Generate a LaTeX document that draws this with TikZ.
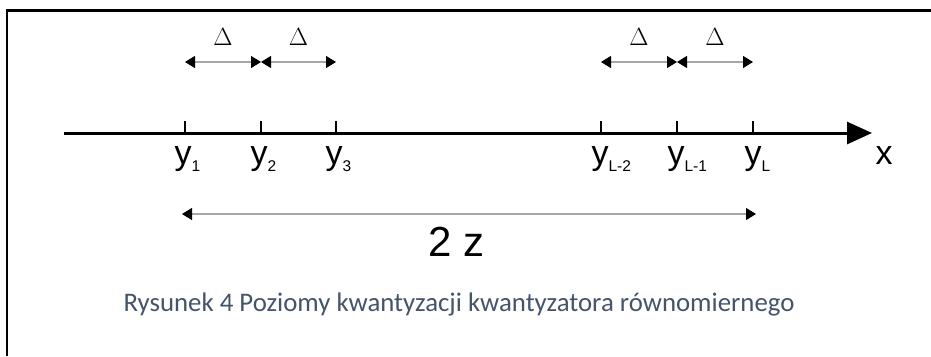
\documentclass[tikz,border=0pt]{standalone}
\usepackage{fontspec}
\setmainfont{Liberation Sans}
\newfontfamily\capfont{Carlito}
\newfontfamily\serifgr{Liberation Serif}
\usetikzlibrary{arrows.meta}
\definecolor{capblue}{HTML}{44546A}
\begin{document}
\begin{tikzpicture}[x=1pt,y=-1pt,
  frame/.style={line width=2.5pt,black},
  axis/.style={line width=3pt,black,-{Triangle[length=25pt,width=22pt]}},
  tickmark/.style={line width=2.5pt,black},
  dimline/.style={line width=1.2pt,black!35,{Triangle[length=10pt,width=12pt,fill=black,color=black]}-{Triangle[length=10pt,width=12pt,fill=black,color=black]}},
  ylbl/.style={font=\fontsize{34}{34}\selectfont,inner sep=0pt,text=black},
  dlbl/.style={font=\serifgr\fontsize{30}{30}\selectfont,inner sep=0pt,text=black}]
\newcommand{\subsc}[1]{\rlap{\raisebox{-7pt}{\fontsize{15.5}{15.5}\selectfont #1}}}
\useasboundingbox (0,0) rectangle (931,356);
\fill[white] (0,0) rectangle (931,356);
\draw[frame] (7,356) -- (7,10.5) -- (931,10.5);
% axis
\coordinate (a0) at (64,133);
\coordinate (a1) at (872,133);
\draw[axis] (a0) -- (a1);
% ticks
\foreach \n/\xx in {t1/185,t2/261,t3/336,t4/601,t5/677,t6/753}{
  \coordinate (\n) at (\xx,133);
  \coordinate (\n top) at (\xx,121);
  \draw[tickmark] (\n) -- (\n top);
}
% labels
\node[ylbl] (y1) at (183,159) {y\subsc{1}};
\node[ylbl] (y2) at (259,159) {y\subsc{2}};
\node[ylbl] (y3) at (334,159) {y\subsc{3}};
\node[ylbl] (y4) at (600,159) {y\subsc{L-2}};
\node[ylbl] (y5) at (676,159) {y\subsc{L-1}};
\node[ylbl] (y6) at (753,159) {y\subsc{L}};
\node[ylbl] (xl) at (884,156) {x};
% delta arrows
\foreach \n/\xx in {d1/185,d2/261,d3/336,d4/601,d5/677,d6/753}{
  \coordinate (\n) at (\xx,62);
}
\draw[dimline] (d1) -- (d2) node[dlbl,midway,above=16pt] (D1) {$\Delta$};
\draw[dimline] (d2) -- (d3) node[dlbl,midway,above=16pt] (D2) {$\Delta$};
\draw[dimline] (d4) -- (d5) node[dlbl,midway,above=16pt] (D3) {$\Delta$};
\draw[dimline] (d5) -- (d6) node[dlbl,midway,above=16pt] (D4) {$\Delta$};
% 2z arrow
\coordinate (z0) at (182,214);
\coordinate (z1) at (756,214);
\draw[dimline] (z0) -- (z1);
\node[font=\fontsize{42}{42}\selectfont,inner sep=0pt] (zl) at (457,242) {2 z};
% caption
\node[font=\capfont\fontsize{26.8}{28}\selectfont,text=capblue,inner sep=0pt] (cap) at (459,304) {Rysunek 4 Poziomy kwantyzacji kwantyzatora równomiernego};
\end{tikzpicture}
\end{document}
